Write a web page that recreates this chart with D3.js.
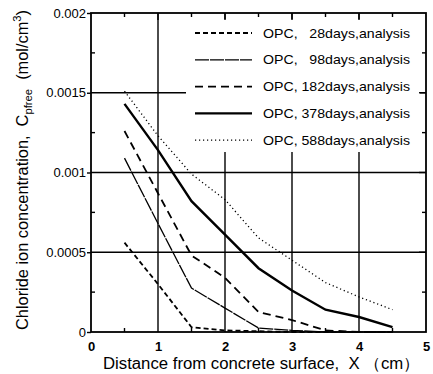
<!DOCTYPE html>
<html><head><meta charset="utf-8">
<script src="https://cdn.jsdelivr.net/npm/d3@7"></script>
<style>body{margin:0;background:#fff}svg{display:block}</style>
</head><body>
<svg id="c" width="433" height="374"></svg>
<script>
const xValues = [0.5, 1.0, 1.5, 2.0, 2.5, 3.0, 3.5, 4.0, 4.5];
const seriesNames = ["OPC,   28days,analysis", "OPC,   98days,analysis", "OPC, 182days,analysis", "OPC, 378days,analysis", "OPC, 588days,analysis"];
const s28  = [0.00056, 0.00030, 0.00003, 0.00001, 0.000005, 0, 0, 0, 0];
const s98  = [0.00109, 0.00068, 0.000275, 0.00015, 0.000025, 0.00001, 0, 0, 0];
const s182 = [0.00126, 0.00087, 0.00048, 0.00034, 0.000125, 0.000075, 0.00001, 0, 0];
const s378 = [0.00143, 0.00114, 0.00082, 0.00061, 0.00040, 0.00026, 0.00014, 0.000094, 0.00003];
const s588 = [0.00151, 0.00123, 0.00099, 0.00083, 0.00059, 0.00045, 0.00031, 0.00022, 0.00014];
const xTicks = [0, 1, 2, 3, 4, 5];
const yTicks = [0, 0.0005, 0.001, 0.0015, 0.002];
const yTickLabels = ["0", "0.0005", "0.001", "0.0015", "0.002"];

const styles = [
  {w: 1.8, dash: "5,3"},
  {w: 1.3, dash: "14,1"},
  {w: 1.8, dash: "8,5"},
  {w: 2.4, dash: null},
  {w: 1.3, dash: "1.2,2.8"}
];
const series = [s28, s98, s182, s378, s588];

const svg = d3.select("#c");
const L = 91, R = 426, T = 13, B = 332;
const x = d3.scaleLinear().domain([0, 5]).range([L, R]);
const y = d3.scaleLinear().domain([0, 0.002]).range([B, T]);
const font = "'Liberation Sans', Arial, sans-serif";

// gridlines
const g = svg.append("g").attr("stroke", "#000").attr("stroke-width", 1.4);
[1,2,3,4].forEach(v => g.append("line").attr("x1", x(v)).attr("x2", x(v)).attr("y1", T).attr("y2", B));
[0.0005,0.001,0.0015].forEach(v => g.append("line").attr("x1", L).attr("x2", R).attr("y1", y(v)).attr("y2", y(v)));

// legend background
svg.append("rect").attr("x", 186).attr("y", 19).attr("width", 234).attr("height", 133).attr("fill", "#fff");

// inward ticks top and right
const tk = svg.append("g").attr("stroke", "#000").attr("stroke-width", 1.4);
[1,2,3,4].forEach(v => tk.append("line").attr("x1", x(v)).attr("x2", x(v)).attr("y1", T).attr("y2", T + 7));
[0.0005,0.001,0.0015].forEach(v => tk.append("line").attr("x1", R).attr("x2", R - 7).attr("y1", y(v)).attr("y2", y(v)));

// minor ticks
d3.range(0.00025, 0.002, 0.0005).forEach(v => {
  tk.append("line").attr("x1", L).attr("x2", L + 4).attr("y1", y(v)).attr("y2", y(v));
  tk.append("line").attr("x1", R).attr("x2", R - 4).attr("y1", y(v)).attr("y2", y(v));
});
d3.range(0.5, 5, 1).forEach(v => {
  tk.append("line").attr("x1", x(v)).attr("x2", x(v)).attr("y1", B).attr("y2", B - 4);
  tk.append("line").attr("x1", x(v)).attr("x2", x(v)).attr("y1", T).attr("y2", T + 4);
});

// data lines
const line = d3.line().x((d, i) => x(xValues[i])).y(d => y(d));
series.forEach((s, i) => {
  svg.append("path").attr("d", line(s)).attr("fill", "none").attr("stroke", "#000")
    .attr("stroke-width", styles[i].w).attr("stroke-dasharray", styles[i].dash);
});

// frame
svg.append("rect").attr("x", L).attr("y", T).attr("width", R - L).attr("height", B - T)
  .attr("fill", "none").attr("stroke", "#000").attr("stroke-width", 1.8);

// axes
const yAxis = d3.axisLeft(y).tickValues(yTicks).tickSize(4).tickFormat((d, i) => yTickLabels[i]);
const ya = svg.append("g").attr("transform", `translate(${L},0)`).call(yAxis);
ya.select(".domain").remove();
ya.selectAll("line").attr("stroke-width", 1.4);
ya.selectAll("text").attr("font-family", font).attr("font-size", 13).attr("fill", "#000").attr("x", -5);

const xAxis = d3.axisBottom(x).tickValues(xTicks).tickSize(0).tickFormat(d3.format("d"));
const xa = svg.append("g").attr("transform", `translate(0,${B})`).call(xAxis);
xa.select(".domain").remove();
xa.selectAll("text").attr("font-family", font).attr("font-size", 13).attr("font-weight", "bold").attr("fill", "#000").attr("y", 10);

// legend
const lg = svg.append("g");
seriesNames.forEach((n, i) => {
  const yy = 33 + i * 26.8;
  lg.append("line").attr("x1", 195).attr("x2", 252).attr("y1", yy).attr("y2", yy)
    .attr("stroke", "#000").attr("stroke-width", styles[i].w).attr("stroke-dasharray", styles[i].dash);
  lg.append("text").attr("x", 263).attr("y", yy + 4.5).attr("font-family", font).attr("font-size", 13)
    .attr("xml:space", "preserve").style("white-space", "pre").attr("textLength", 147).attr("lengthAdjust", "spacingAndGlyphs").text(n);
});

// axis titles
svg.append("text").attr("x", 103).attr("y", 369)
  .attr("font-family", font).attr("font-size", 16).attr("textLength", 317).attr("lengthAdjust", "spacingAndGlyphs")
  .style("white-space", "pre").text("Distance from concrete surface,  X （cm）");

const yt = svg.append("text").attr("transform", "translate(28,330) rotate(-90)")
  .attr("font-family", font).attr("font-size", 16).style("white-space", "pre")
  .attr("textLength", 320).attr("lengthAdjust", "spacingAndGlyphs");
yt.append("tspan").text("Chloride ion concentration,  C");
yt.append("tspan").attr("font-size", 11).attr("dy", 4).text("pfree");
yt.append("tspan").attr("dy", -4).text("  (mol/cm");
yt.append("tspan").attr("font-size", 11).attr("dy", -7).text("3");
yt.append("tspan").attr("dy", 7).text(")");
</script>
</body></html>
